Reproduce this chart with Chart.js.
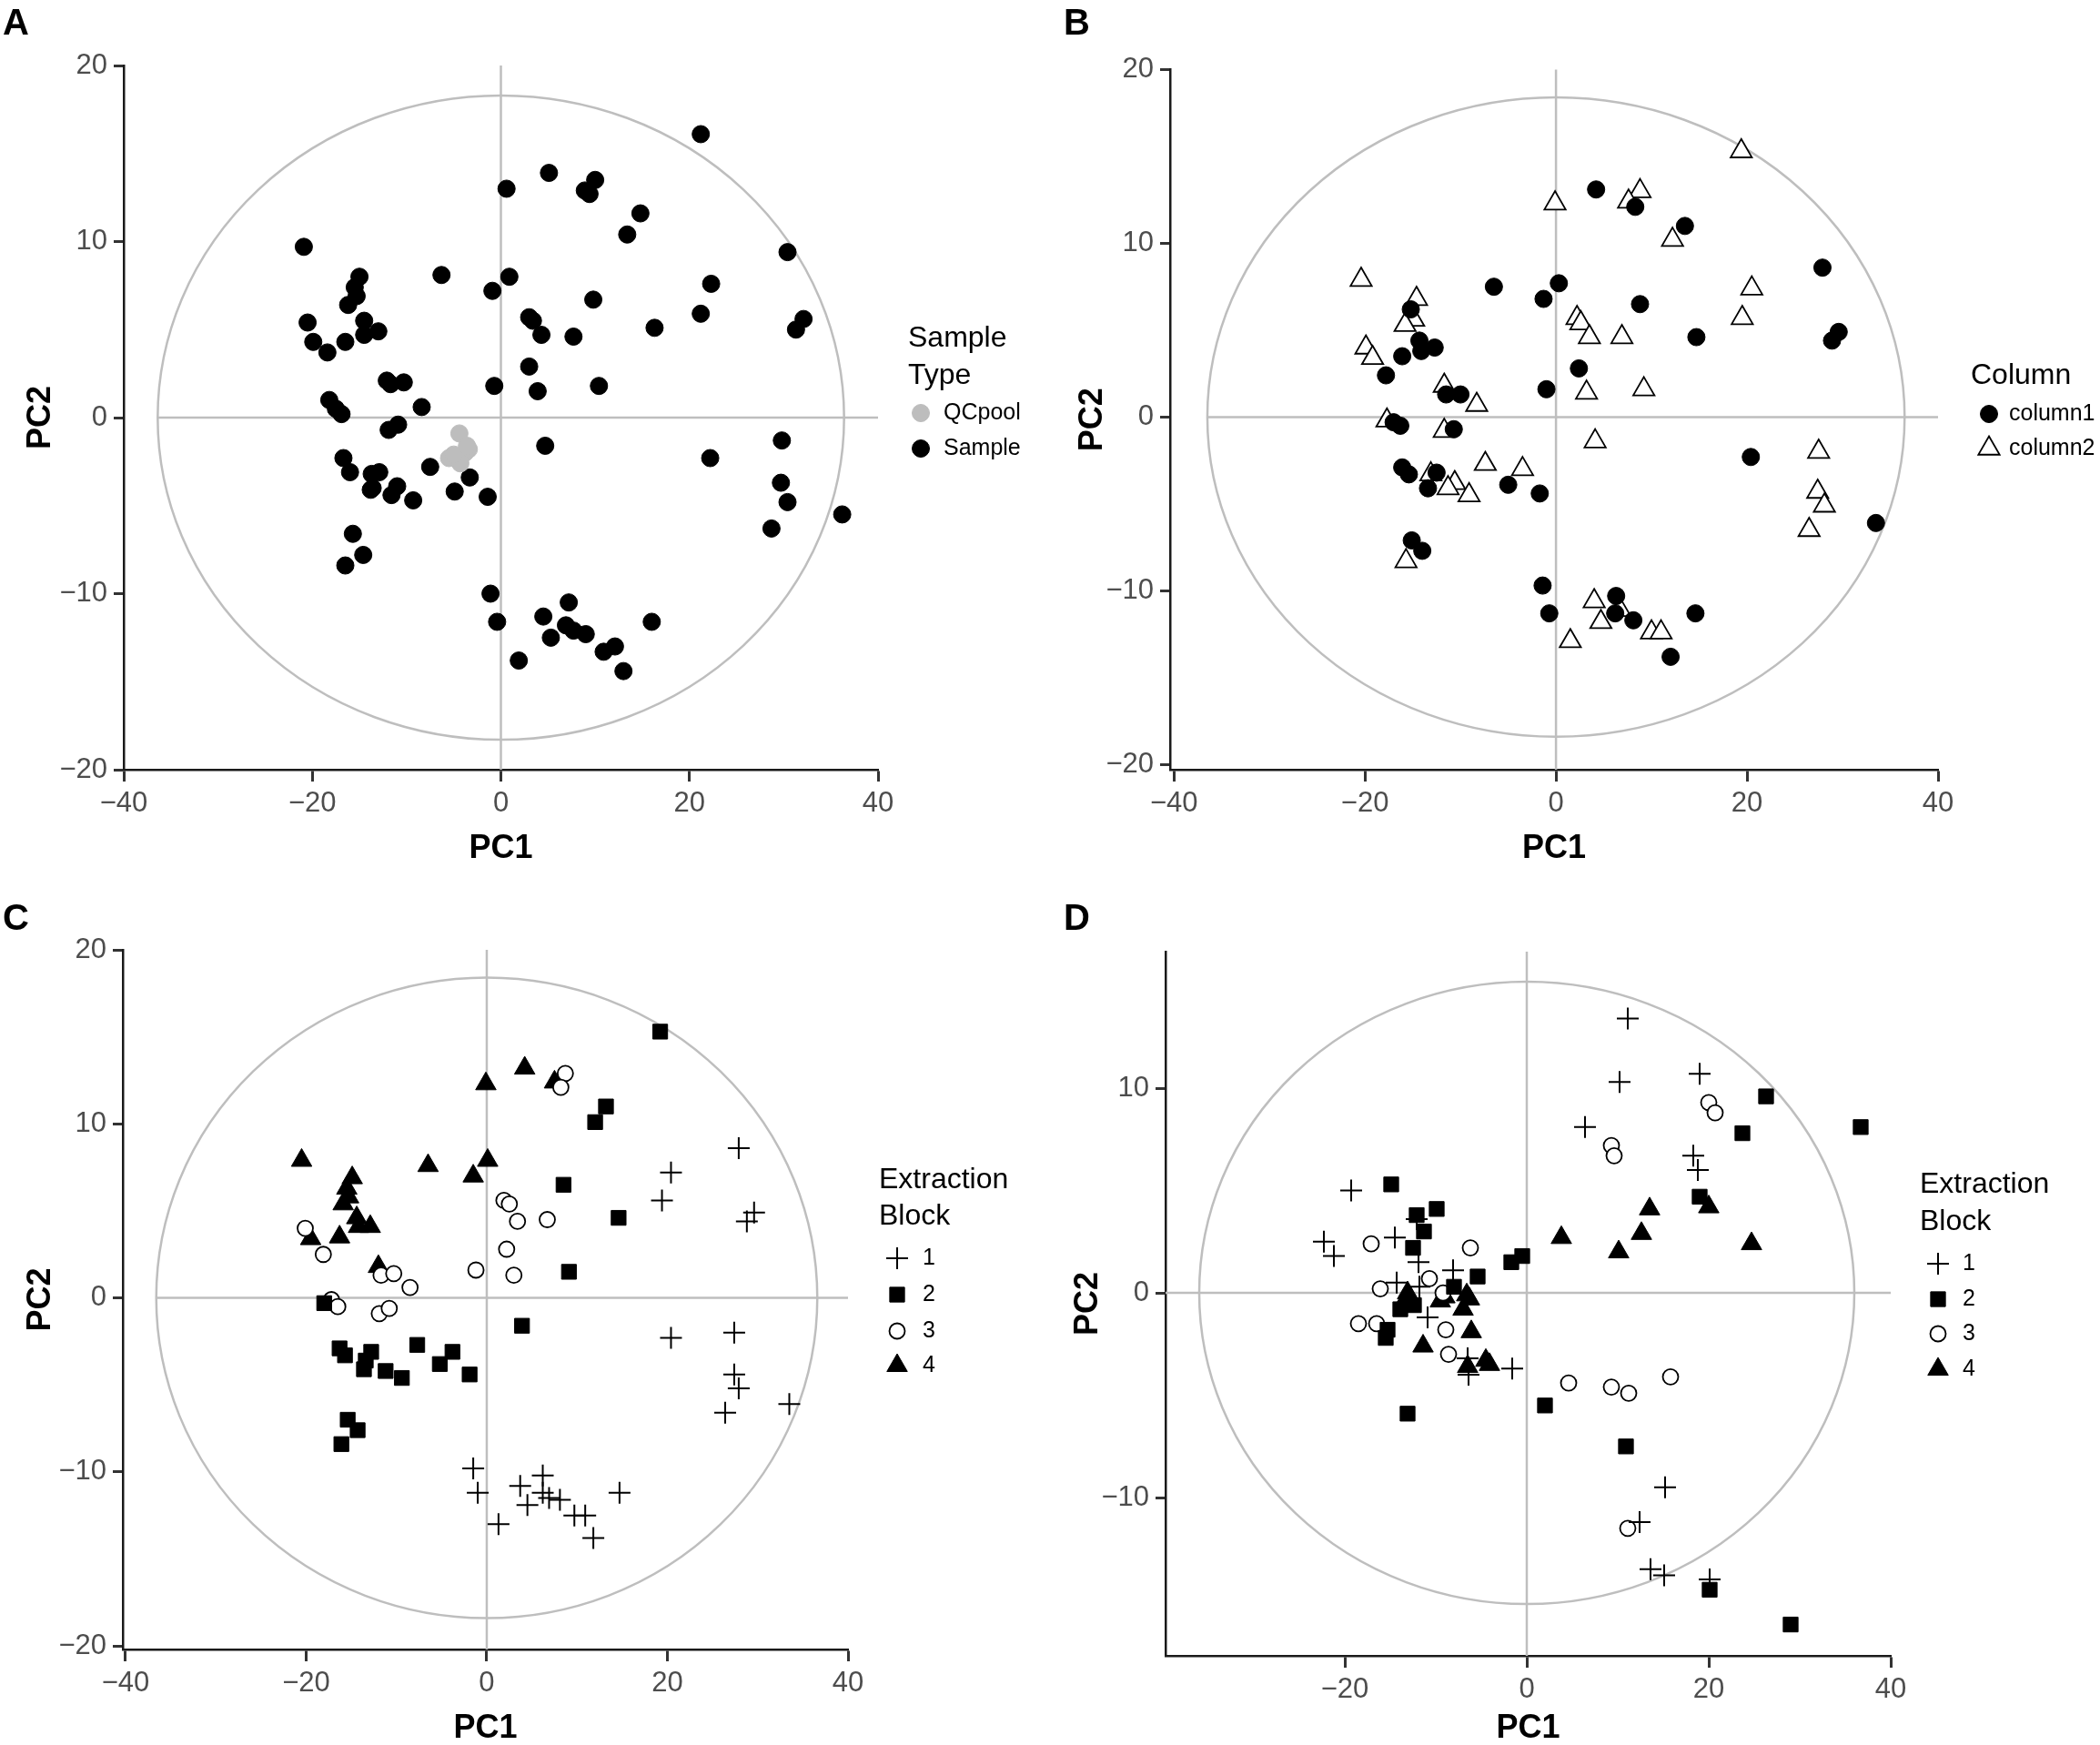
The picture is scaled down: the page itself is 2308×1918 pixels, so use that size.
<!DOCTYPE html>
<html lang="en">
<head>
    <meta charset="UTF-8">
    <title>PCA score plots</title>
    <script src="https://cdn.jsdelivr.net/npm/chart.js@4.4.0/dist/chart.umd.min.js"></script>
    <style>
        body { margin: 0; background: #fff; }
        #page { position: relative; width: 2308px; height: 1918px; }
        .panel { position: absolute; width: 1154px; height: 959px; }
    </style>
</head>
<body>
<div id="page">
    <div class="panel" style="left:0;top:0"><canvas id="chartA" width="1154" height="959"></canvas></div>
    <div class="panel" style="left:1154px;top:0"><canvas id="chartB" width="1154" height="959"></canvas></div>
    <div class="panel" style="left:0;top:959px"><canvas id="chartC" width="1154" height="959"></canvas></div>
    <div class="panel" style="left:1154px;top:959px"><canvas id="chartD" width="1154" height="959"></canvas></div>
</div>
<script>
    // Panel A - sample type
    const aSampleX = [21.2,5.1,0.6,8.9,9.4,10.0,14.8,13.4,-20.9,30.4,-6.3,0.9,-15.0,-15.5,-15.3,22.3,-0.9,9.8,-16.2,21.2,
        -20.5,-14.5,3.0,3.4,32.1,31.3,16.3,-19.9,-16.5,-14.5,-13.0,4.3,7.7,-18.4,3.0,-12.1,-11.7,-10.3,-0.7,3.9,
        10.4,-18.2,-17.5,-16.9,-8.4,-11.9,-10.9,4.7,29.8,22.2,-16.7,-16.0,-13.7,-12.9,-7.5,-3.3,-13.8,-13.6,-11.0,-11.6,
        -9.3,-4.9,-1.4,29.7,30.4,36.2,28.7,-15.7,-14.6,-16.5,-1.1,7.2,-0.4,4.5,5.3,6.9,7.7,9.0,16.0,10.9,12.1,13.0,1.9];
    const aSampleY = [16.1,13.9,13.0,12.9,12.7,13.5,11.6,10.4,9.7,9.4,8.1,8.0,8.0,7.4,6.9,7.6,7.2,6.7,6.4,5.9,
        5.4,5.5,5.7,5.5,5.6,5.0,5.1,4.3,4.3,4.7,4.9,4.7,4.6,3.7,2.9,2.1,1.9,2.0,1.8,1.5,
        1.8,1.0,0.5,0.2,0.6,-0.7,-0.4,-1.6,-1.3,-2.3,-2.3,-3.1,-3.2,-3.1,-2.8,-3.4,-4.1,-4.0,-3.9,-4.4,
        -4.7,-4.2,-4.5,-3.7,-4.8,-5.5,-6.3,-6.6,-7.8,-8.4,-10.0,-10.5,-11.6,-11.3,-12.5,-11.8,-12.1,-12.3,-11.6,-13.3,-13.0,-14.4,-13.8];
    const aQcX = [-4.4,-3.4,-3.8,-4.7,-5.5,-4.3,-5.0,-3.6];
    const aQcY = [-0.9,-1.8,-2.0,-2.3,-2.3,-2.6,-2.1,-1.6];

    // Panel B - column
    const bCol1X = [4.2,8.3,13.5,27.9,-6.5,0.3,-1.3,8.8,-15.2,14.7,29.6,28.9,-14.3,-14.1,-12.7,-16.1,2.4,-17.8,-1.0,-11.5,
        -10.0,-17.0,-16.3,-10.7,20.4,-16.1,-15.4,-12.5,-13.4,-5.0,-1.7,33.5,-15.1,-14.0,-1.4,-0.7,6.3,6.2,8.1,14.6,12.0];
    const bCol1Y = [13.1,12.1,11.0,8.6,7.5,7.7,6.8,6.5,6.2,4.6,4.9,4.4,4.4,3.8,4.0,3.5,2.8,2.4,1.6,1.3,
        1.3,-0.3,-0.5,-0.7,-2.3,-2.9,-3.3,-3.2,-4.1,-3.9,-4.4,-6.1,-7.1,-7.7,-9.7,-11.3,-10.3,-11.3,-11.7,-11.3,-13.8];
    const bCol2X = [19.4,-0.1,8.8,7.6,12.2,-20.4,20.5,-14.6,-14.9,-15.8,2.2,2.6,3.5,6.9,19.5,-19.9,-19.2,-11.7,3.2,9.2,
        -8.3,-17.7,-11.7,4.1,27.5,-7.4,-3.5,-13.1,-10.6,-11.3,-9.1,27.4,28.1,26.5,-15.7,4.0,4.7,6.7,1.5,10.0,11.0];
    const bCol2Y = [15.3,12.3,13.0,12.4,10.2,7.9,7.4,6.8,5.6,5.3,5.7,5.4,4.6,4.6,5.7,4.0,3.4,1.8,1.4,1.6,
        0.7,-0.2,-0.8,-1.4,-2.0,-2.7,-3.0,-3.3,-3.8,-4.1,-4.5,-4.3,-5.1,-6.5,-8.3,-10.6,-11.8,-11.1,-12.9,-12.4,-12.4];

    // Panel C - extraction block (same PCA as B)
    const cBlock1X = [27.9,20.4,19.4,29.6,28.8,20.4,27.4,27.4,27.9,26.4,33.5,-1.5,-1.0,3.7,6.2,4.5,6.2,6.9,8.1,9.7,10.9,14.7,1.3,11.8];
    const cBlock1Y = [8.6,7.2,5.6,4.9,4.4,-2.3,-2.0,-4.4,-5.2,-6.6,-6.1,-9.8,-11.2,-10.8,-10.2,-11.9,-11.2,-11.5,-11.6,-12.5,-12.5,-11.2,-13.0,-13.8];
    const cBlock2X = [19.2,13.2,12.0,8.5,14.6,9.1,-18.0,3.9,-16.3,-15.7,-12.8,-13.6,-11.2,-13.4,-7.7,-3.8,-5.2,-9.4,-1.9,-15.4,-14.3,-16.1];
    const cBlock2Y = [15.3,11.0,10.1,6.5,4.6,1.5,-0.3,-1.6,-2.9,-3.3,-3.1,-4.1,-4.2,-3.6,-2.7,-3.1,-3.8,-4.6,-4.4,-7.0,-7.6,-8.4];
    const cBlock3X = [8.7,8.2,1.9,2.5,3.4,6.7,2.2,3.0,-1.2,-20.1,-18.1,-11.7,-10.3,-8.5,-17.2,-16.5,-11.9,-10.8];
    const cBlock3Y = [12.9,12.1,5.6,5.4,4.4,4.5,2.8,1.3,1.6,4.0,2.5,1.3,1.4,0.6,-0.1,-0.5,-0.9,-0.6];
    const cBlock4X = [4.2,-0.1,7.5,-20.5,-6.5,0.1,-1.5,-14.9,-15.5,-15.3,-15.9,-14.4,-14.2,-12.9,-16.3,-19.5,-12.0];
    const cBlock4Y = [13.2,12.3,12.4,7.9,7.6,7.9,7.0,6.9,6.3,5.8,5.4,4.6,4.1,4.1,3.5,3.4,1.8];

    // Panel D - extraction block, second PCA
    const dBlock1X = [11.1,10.2,19.0,6.4,18.3,18.8,-19.3,-22.3,-21.2,-14.5,-12.1,-11.9,-8.1,-14.3,-11.8,-10.9,-6.5,-6.4,-1.6,15.2,12.4,13.6,15.1,20.1];
    const dBlock1Y = [13.4,10.3,10.7,8.1,6.7,6.0,5.0,2.5,1.8,2.7,3.6,1.5,1.1,0.5,0.3,-1.2,-3.2,-4.0,-3.7,-9.5,-11.2,-13.5,-13.8,-14.0];
    const dBlock2X = [26.3,36.7,23.7,-14.9,19.0,-9.9,-12.1,-11.3,-12.5,-0.5,-1.7,-5.4,-8.0,-12.4,-13.9,-15.3,-15.5,-13.1,2.0,10.9,20.1,29.0];
    const dBlock2Y = [9.6,8.1,7.8,5.3,4.7,4.1,3.8,3.0,2.2,1.8,1.5,0.8,0.3,-0.6,-0.8,-1.8,-2.2,-5.9,-5.5,-7.5,-14.5,-16.2];
    const dBlock3X = [20.0,20.7,9.3,9.6,-17.1,-6.2,-10.7,-16.1,-9.2,-18.5,-16.5,-8.9,-8.6,4.6,9.3,11.2,15.8,11.1];
    const dBlock3Y = [9.3,8.8,7.2,6.7,2.4,2.2,0.7,0.2,0.0,-1.5,-1.5,-1.8,-3.0,-4.4,-4.6,-4.9,-4.1,-11.5];
    const dBlock4X = [13.5,20.0,3.8,12.6,10.1,24.7,-13.1,-13.3,-9.5,-9.0,-6.6,-6.3,-7.0,-6.1,-11.4,-6.5,-4.5,-4.1];
    const dBlock4Y = [4.1,4.2,2.7,2.9,2.0,2.4,0.0,-0.3,-0.4,-0.2,-0.1,-0.3,-0.8,-1.9,-2.6,-3.6,-3.3,-3.5];

    // tick values
    const ticksPc1 = [-40, -20, 0, 20, 40];
    const ticksPc2 = [-20, -10, 0, 10, 20];
    const ticksPc1D = [-20, 0, 20, 40];
    const ticksPc2D = [-10, 0, 10];

    // confidence ellipse half-axes (PC1, PC2)
    const ellipseA = [36.4, 18.3];
    const ellipseB = [36.5, 18.4];
    const ellipseC = [36.6, 18.4];
    const ellipseD = [36.0, 15.2];

    const FONT = '"Liberation Sans", Arial, Helvetica, sans-serif';
    const W = 1154, H = 959;

    // marker styles
    const marks = {
        sample: { style: 'circle', r: 9.5, fill: '#000', stroke: '#000', bw: 1 },
        qc: { style: 'circle', r: 9.5, fill: '#bdbdbd', stroke: '#bdbdbd', bw: 1 },
        col1: { style: 'circle', r: 9.5, fill: '#000', stroke: '#000', bw: 1 },
        col2: { style: 'triangle', r: 13.5, fill: '#fff', stroke: '#000', bw: 1.8 },
        b1: { style: 'cross', r: 12, fill: '#000', stroke: '#000', bw: 2 },
        b2: { style: 'rect', r: 11.5, fill: '#000', stroke: '#000', bw: 1 },
        b3: { style: 'circle', r: 8.5, fill: '#fff', stroke: '#000', bw: 1.8 },
        b4: { style: 'triangle', r: 13, fill: '#000', stroke: '#000', bw: 1 }
    };

    const pts = (xs, ys) => xs.map((x, i) => ({ x: x, y: ys[i] }));
    const minus = v => v < 0 ? '\u2212' + Math.abs(v) : String(v);

    function dataset(label, xs, ys, m) {
        return {
            label: label,
            data: pts(xs, ys),
            pointStyle: m.style,
            pointRadius: m.r,
            pointBackgroundColor: m.fill,
            pointBorderColor: m.stroke,
            pointBorderWidth: m.bw,
            showLine: false
        };
    }

    // ellipse, zero lines, panel letter and legend
    function decor(p) {
        return {
            id: 'decor',
            beforeDatasetsDraw(chart) {
                const { ctx, chartArea: a, scales: { x, y } } = chart;
                const cx = x.getPixelForValue(0), cy = y.getPixelForValue(0);
                const rx = x.getPixelForValue(p.ellipse[0]) - cx;
                const ry = cy - y.getPixelForValue(p.ellipse[1]);
                ctx.save();
                ctx.strokeStyle = '#bebebe';
                ctx.lineWidth = 2.5;
                ctx.beginPath();
                ctx.ellipse(cx, cy, rx, ry, 0, 0, Math.PI * 2);
                ctx.stroke();
                ctx.beginPath();
                ctx.moveTo(x.getPixelForValue(p.hStart), cy);
                ctx.lineTo(a.right, cy);
                ctx.moveTo(cx, a.top);
                ctx.lineTo(cx, a.bottom);
                ctx.stroke();
                ctx.restore();
            },
            afterDraw(chart) {
                const ctx = chart.ctx;
                const lg = p.legend;
                ctx.save();
                ctx.fillStyle = '#000';
                ctx.textAlign = 'left';
                ctx.textBaseline = 'alphabetic';
                ctx.font = 'bold 40px ' + FONT;
                ctx.fillText(p.letter, p.letterX, p.letterY);

                ctx.textBaseline = 'middle';
                ctx.font = '32px ' + FONT;
                lg.title.forEach((t, i) => ctx.fillText(t, lg.x, lg.titleY[i]));
                ctx.font = '25px ' + FONT;
                lg.items.forEach((it, i) => {
                    const m = it.mark;
                    ctx.fillStyle = m.fill;
                    ctx.strokeStyle = m.stroke;
                    ctx.lineWidth = m.bw;
                    Chart.helpers.drawPoint(ctx, { pointStyle: m.style, radius: m.r, rotation: 0, borderWidth: m.bw }, lg.markX, lg.itemY[i]);
                    ctx.fillStyle = '#000';
                    ctx.fillText(it.label, lg.textX, lg.itemY[i]);
                });
                ctx.restore();
            }
        };
    }

    function axis(min, max, ticks, title, horizontal, p) {
        return {
            type: 'linear',
            min: min,
            max: max,
            afterBuildTicks: s => { s.ticks = ticks.map(v => ({ value: v })); },
            afterFit: s => {
                if (horizontal) s.height = H - p.area.bottom;
                else s.width = p.area.left;
            },
            grid: {
                drawOnChartArea: false,
                drawTicks: true,
                tickLength: horizontal ? 13 : 11,
                tickWidth: 3,
                tickColor: '#333'
            },
            border: { display: true, color: '#1a1a1a', width: 2.5 },
            ticks: {
                font: { family: FONT, size: 31 },
                color: '#4d4d4d',
                padding: horizontal ? 6 : 7,
                autoSkip: false,
                maxRotation: 0,
                callback: v => minus(v)
            },
            title: {
                display: true,
                text: title,
                color: '#000',
                font: { family: FONT, size: 36, weight: 'bold', lineHeight: 1 },
                padding: horizontal ? { top: 0, bottom: p.xTitlePad } : { top: p.yTitlePad, bottom: 0 }
            }
        };
    }

    function makePanel(id, datasets, p) {
        new Chart(document.getElementById(id), {
            type: 'scatter',
            data: { datasets: datasets },
            options: {
                responsive: false,
                devicePixelRatio: 1,
                animation: false,
                events: [],
                layout: { padding: { left: 0, top: p.area.top, right: W - p.area.right, bottom: 0 } },
                plugins: { legend: { display: false }, tooltip: { enabled: false } },
                scales: {
                    x: axis(p.xRange[0], p.xRange[1], p.xTicks, 'PC1', true, p),
                    y: axis(p.yRange[0], p.yRange[1], p.yTicks, 'PC2', false, p)
                }
            },
            plugins: [decor(p)]
        });
    }

    const blockItems = [
        { label: '1', mark: marks.b1 },
        { label: '2', mark: marks.b2 },
        { label: '3', mark: marks.b3 },
        { label: '4', mark: marks.b4 }
    ];

    makePanel('chartA', [
        dataset('QCpool', aQcX, aQcY, marks.qc),
        dataset('Sample', aSampleX, aSampleY, marks.sample)
    ], {
        area: { left: 136, right: 965, top: 72, bottom: 846 },
        xRange: [-40, 40], yRange: [-20, 20], xTicks: ticksPc1, yTicks: ticksPc2,
        ellipse: ellipseA, hStart: -ellipseA[0],
        xTitlePad: 8, yTitlePad: 27,
        letter: 'A', letterX: 3, letterY: 38,
        legend: {
            title: ['Sample', 'Type'], x: 998, titleY: [372, 413],
            markX: 1012, textX: 1037, itemY: [454, 493],
            items: [{ label: 'QCpool', mark: marks.qc }, { label: 'Sample', mark: marks.sample }]
        }
    });

    makePanel('chartB', [
        dataset('column1', bCol1X, bCol1Y, marks.col1),
        dataset('column2', bCol2X, bCol2Y, marks.col2)
    ], {
        area: { left: 132, right: 976, top: 76.5, bottom: 846 },
        xRange: [-40.4, 40], yRange: [-20.3, 20], xTicks: ticksPc1, yTicks: ticksPc2,
        ellipse: ellipseB, hStart: -ellipseB[0],
        xTitlePad: 8, yTitlePad: 29,
        letter: 'B', letterX: 15, letterY: 38,
        legend: {
            title: ['Column'], x: 1012, titleY: [413],
            markX: 1032, textX: 1054, itemY: [455, 493],
            items: [{ label: 'column1', mark: marks.col1 }, { label: 'column2', mark: marks.col2 }]
        }
    });

    makePanel('chartC', [
        dataset('1', cBlock1X, cBlock1Y, marks.b1),
        dataset('2', cBlock2X, cBlock2Y, marks.b2),
        dataset('3', cBlock3X, cBlock3Y, marks.b3),
        dataset('4', cBlock4X, cBlock4Y, marks.b4)
    ], {
        area: { left: 135, right: 932, top: 85, bottom: 854 },
        xRange: [-40.3, 40], yRange: [-20.2, 20], xTicks: ticksPc1, yTicks: ticksPc2,
        ellipse: ellipseC, hStart: -ellipseC[0],
        xTitlePad: 0, yTitlePad: 27,
        letter: 'C', letterX: 3, letterY: 63,
        legend: {
            title: ['Extraction', 'Block'], x: 966, titleY: [338, 378],
            markX: 986, textX: 1014, itemY: [424, 464, 504, 542],
            items: blockItems
        }
    });

    makePanel('chartD', [
        dataset('1', dBlock1X, dBlock1Y, marks.b1),
        dataset('2', dBlock2X, dBlock2Y, marks.b2),
        dataset('3', dBlock3X, dBlock3Y, marks.b3),
        dataset('4', dBlock4X, dBlock4Y, marks.b4)
    ], {
        area: { left: 127, right: 924, top: 87, bottom: 861 },
        xRange: [-39.7, 40], yRange: [-17.73, 16.67], xTicks: ticksPc1D, yTicks: ticksPc2D,
        ellipse: ellipseD, hStart: -39.7,
        xTitlePad: 0, yTitlePad: 24,
        letter: 'D', letterX: 15, letterY: 63,
        legend: {
            title: ['Extraction', 'Block'], x: 956, titleY: [343, 384],
            markX: 976, textX: 1003, itemY: [430, 469, 507, 546],
            items: blockItems
        }
    });
</script>
</body>
</html>
